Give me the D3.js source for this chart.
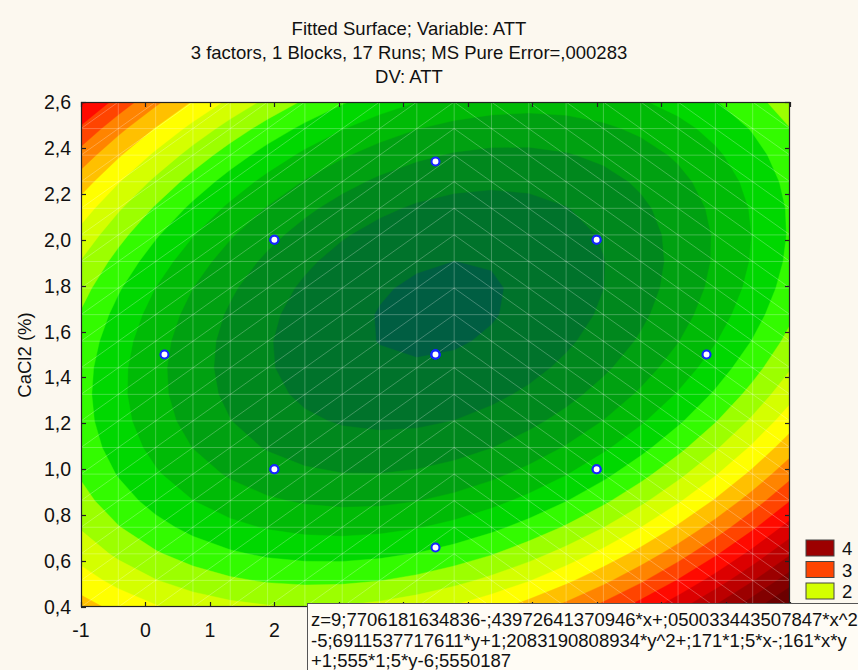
<!DOCTYPE html>
<html>
<head>
<meta charset="utf-8">
<script src="https://cdn.jsdelivr.net/npm/d3@7"></script>
<style>
  html, body { margin: 0; padding: 0; background: #fcf8ef; }
  svg { display: block; font-family: "Liberation Sans", Arial, sans-serif; }
</style>
</head>
<body>
<svg id="chart" width="858" height="670"></svg>
<script>
// --- values ---
var titleLines = ['Fitted Surface; Variable: ATT',
    '3 factors, 1 Blocks, 17 Runs; MS Pure Error=,000283',
    'DV: ATT'];
var yLabel = 'CaCl2 (%)';
var xTicks = [-1, 0, 1, 2, 3, 4, 5, 6, 7, 8, 9, 10];
var yTicks = [0.4, 0.6, 0.8, 1.0, 1.2, 1.4, 1.6, 1.8, 2.0, 2.2, 2.4, 2.6];

// design runs (17), projected on the x / CaCl2 plane
var runX = [2, 7, 2, 7, 2, 7, 2, 7, 0.295, 8.705, 4.5, 4.5, 4.5, 4.5, 4.5, 4.5, 4.5];
var runY = [1, 1, 2, 2, 1, 1, 2, 2, 1.5, 1.5, 0.659, 2.341, 1.5, 1.5, 1.5, 1.5, 1.5];

// fitted equation as printed under the plot (third factor held at 1,5)
var coefMain = [9.7706181634836, -0.43972641370946, 0.050033443507847, -5.6911537717611, 1.2083190808934]; // 1, x, x^2, y, y^2
var coefCross = [0.171, -0.161, 1.555];   // x*w, x*y, y*w
var coefW = [-6.5550187, 1.5657];         // w, w^2 (second one is cut off in the picture, estimated)
var wFixed = 1.5;

var levels = [0, 0.25, 0.5, 0.75, 1, 1.25, 1.5, 1.75, 2, 2.25, 2.5, 2.75,
    3, 3.25, 3.5, 3.75, 4, 4.25, 4.5, 4.75];
var legendLevels = [4, 3, 2];
var equationLines = ['z=9;7706181634836-;43972641370946*x+;050033443507847*x^2',
    '-5;6911537717611*y+1;2083190808934*y^2+;171*1;5*x-;161*x*y',
    '+1;555*1;5*y-6;5550187'];

var bandColors = ['#005e42', '#00732b', '#00881d', '#00a111', '#00bb06', '#00d800',
    '#33fb00', '#9cff00', '#d4ff00', '#ffff00', '#ffc000', '#ff8400',
    '#ff4400', '#ff0a00', '#dc0000', '#bc0000', '#9c0000', '#820000',
    '#6c0000', '#5a0000'];

var svg = d3.select('#chart'),
    margin = {left: 81, right: 790, top: 102, bottom: 607};

var x = d3.scaleLinear().domain([-1, 10]).range([margin.left, margin.right]),
    y = d3.scaleLinear().domain([0.4, 2.6]).range([margin.bottom, margin.top]);

function surface(xv, yv) {
    return coefMain[0] + coefMain[1] * xv + coefMain[2] * xv * xv +
        coefMain[3] * yv + coefMain[4] * yv * yv +
        coefCross[0] * wFixed * xv + coefCross[1] * xv * yv + coefCross[2] * wFixed * yv +
        coefW[0] * wFixed + coefW[1] * wFixed * wFixed;
}

// grid the surface is evaluated on (the mesh visible in the picture)
var N = 20,
    x0 = x.domain()[0], x1 = x.domain()[1],
    y0 = y.domain()[0], y1 = y.domain()[1],
    stepX = (x1 - x0) / (N - 1),
    stepY = (y1 - y0) / (N - 1);

var values = [];
for (var j = 0; j < N; j++) {
    for (var i = 0; i < N; i++) {
        values.push(surface(x0 + i * stepX, y1 - j * stepY));
    }
}

svg.append('defs').append('clipPath').attr('id', 'plotclip')
    .append('rect')
    .attr('x', margin.left).attr('y', margin.top)
    .attr('width', margin.right - margin.left)
    .attr('height', margin.bottom - margin.top);

var gridProj = d3.geoTransform({
    point: function (cx, cy) {
        this.stream.point(x(x0 + (cx - 0.5) * stepX), y(y1 - (cy - 0.5) * stepY));
    }
});
var path = d3.geoPath(gridProj);

var contours = d3.contours().size([N, N]).thresholds(levels)(values);

var plot = svg.append('g').attr('clip-path', 'url(#plotclip)');

plot.append('g')
    .attr('class', 'bands')
    .selectAll('path')
    .data(contours)
    .enter()
    .append('path')
    .attr('d', path)
    .attr('fill', function (d, k) { return bandColors[k]; })
    .attr('stroke', function (d, k) { return bandColors[k]; })
    .attr('stroke-width', 0.4);

// faint white mesh lines
var mesh = plot.append('g')
    .attr('stroke', '#ffffff')
    .attr('stroke-opacity', 0.26)
    .attr('stroke-width', 1);
var nodes = d3.range(N);
mesh.selectAll('line.v').data(nodes).enter().append('line')
    .attr('x1', function (k) { return x(x0 + k * stepX); })
    .attr('x2', function (k) { return x(x0 + k * stepX); })
    .attr('y1', margin.top).attr('y2', margin.bottom);
mesh.selectAll('line.h').data(nodes).enter().append('line')
    .attr('y1', function (k) { return y(y0 + k * stepY); })
    .attr('y2', function (k) { return y(y0 + k * stepY); })
    .attr('x1', margin.left).attr('x2', margin.right);
var cells = [];
for (var a = 0; a < N - 1; a++) {
    for (var b = 0; b < N - 1; b++) cells.push([a, b]);
}
var apex = 10;
mesh.selectAll('line.d').data(cells).enter().append('line')
    .attr('x1', function (c) { return x(x0 + c[0] * stepX); })
    .attr('x2', function (c) { return x(x0 + (c[0] + 1) * stepX); })
    .attr('y1', function (c) { return y(y0 + (c[0] < apex ? c[1] : c[1] + 1) * stepY); })
    .attr('y2', function (c) { return y(y0 + (c[0] < apex ? c[1] + 1 : c[1]) * stepY); });

// frame and inward ticks
svg.append('rect')
    .attr('x', margin.left + 0.5).attr('y', margin.top + 0.5)
    .attr('width', margin.right - margin.left - 1)
    .attr('height', margin.bottom - margin.top - 1)
    .attr('fill', 'none').attr('stroke', '#222').attr('stroke-width', 1.2);

var tk = 5;
var ticks = svg.append('g').attr('stroke', '#222').attr('stroke-width', 1.2);
xTicks.forEach(function (v) {
    var px = Math.round(x(v)) + 0.5;
    ticks.append('line').attr('x1', px).attr('x2', px).attr('y1', margin.bottom).attr('y2', margin.bottom - tk);
    ticks.append('line').attr('x1', px).attr('x2', px).attr('y1', margin.top).attr('y2', margin.top + tk);
});
yTicks.forEach(function (v) {
    var py = Math.round(y(v)) + 0.5;
    ticks.append('line').attr('y1', py).attr('y2', py).attr('x1', margin.left).attr('x2', margin.left + tk);
    ticks.append('line').attr('y1', py).attr('y2', py).attr('x1', margin.right).attr('x2', margin.right - tk);
});

var fmt = function (v) { return v.toFixed(1).replace('.', ','); };
var boxLeft = 307;

svg.append('g').selectAll('text').data(yTicks).enter().append('text')
    .attr('x', 71)
    .attr('y', function (v) { return y(v) + 7; })
    .attr('text-anchor', 'end')
    .attr('font-size', '19.5px')
    .attr('fill', '#111')
    .text(fmt);

// labels for ticks further right sit under the equation box
svg.append('g').selectAll('text')
    .data(xTicks.filter(function (v) { return x(v) + 12 < boxLeft; }))
    .enter().append('text')
    .attr('x', function (v) { return x(v); })
    .attr('y', 637)
    .attr('text-anchor', 'middle')
    .attr('font-size', '19.5px')
    .attr('fill', '#111')
    .text(function (v) { return String(v); });

svg.append('text')
    .attr('transform', 'translate(31,355) rotate(-90)')
    .attr('text-anchor', 'middle')
    .attr('font-size', '18.5px')
    .attr('fill', '#111')
    .text(yLabel);

// titles
svg.append('g').selectAll('text').data(titleLines).enter().append('text')
    .attr('x', 409)
    .attr('y', function (d, k) { return 35 + k * 24; })
    .attr('text-anchor', 'middle')
    .attr('font-size', '18.5px')
    .attr('fill', '#111')
    .text(function (d) { return d; });

// design points
svg.append('g').selectAll('circle')
    .data(runX.map(function (v, k) { return [v, runY[k]]; }))
    .enter()
    .append('circle')
    .attr('cx', function (d) { return x(d[0]); })
    .attr('cy', function (d) { return y(d[1]); })
    .attr('r', 4)
    .attr('fill', '#ffffff')
    .attr('stroke', '#1424ff')
    .attr('stroke-width', 2.1);

// legend
var leg = svg.append('g').selectAll('g').data(legendLevels).enter().append('g')
    .attr('transform', function (d, k) { return 'translate(806,' + (540 + k * 21.5) + ')'; });
leg.append('rect')
    .attr('width', 28).attr('height', 16)
    .attr('fill', function (d) { return bandColors[levels.indexOf(d)]; })
    .attr('stroke', '#444').attr('stroke-width', 1);
leg.append('text')
    .attr('x', 36).attr('y', 15)
    .attr('font-size', '18.5px')
    .attr('fill', '#111')
    .text(function (d) { return String(d); });

// equation box
svg.append('rect')
    .attr('x', boxLeft + 0.5).attr('y', 603.5)
    .attr('width', 700).attr('height', 120)
    .attr('fill', '#fffcf5')
    .attr('stroke', '#555').attr('stroke-width', 1);
svg.append('g').selectAll('text').data(equationLines).enter().append('text')
    .attr('x', 311)
    .attr('y', function (d, k) { return 626 + k * 20.5; })
    .attr('font-size', '18.5px')
    .attr('fill', '#111')
    .text(function (d) { return d; });
</script>
</body>
</html>
